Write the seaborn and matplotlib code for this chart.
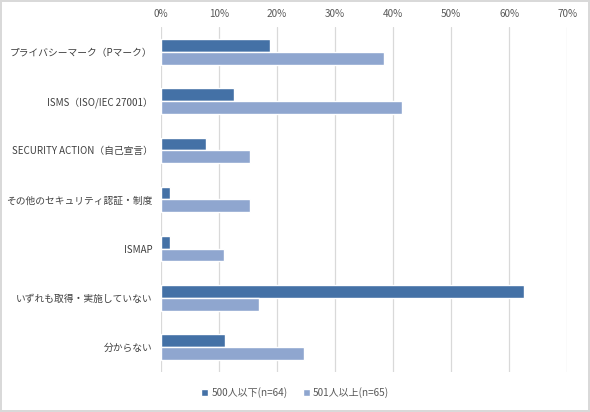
import matplotlib
matplotlib.use("Agg")
import matplotlib.pyplot as plt
import seaborn as sns
import pandas as pd
from matplotlib.ticker import PercentFormatter

categories = [
    "プライバシーマーク（Pマーク）",
    "ISMS（ISO/IEC 27001）",
    "SECURITY ACTION（自己宣言）",
    "その他のセキュリティ認証・制度",
    "ISMAP",
    "いずれも取得・実施していない",
    "分からない",
]
series_names = ["500人以下(n=64)", "501人以上(n=65)"]
small_vals = [0.1875, 0.125, 0.078, 0.0156, 0.0156, 0.625, 0.1094]
large_vals = [0.3846, 0.4154, 0.1538, 0.1538, 0.1077, 0.1692, 0.2462]
xticks = [0, 0.1, 0.2, 0.3, 0.4, 0.5, 0.6, 0.7]

colors = ["#4471A6", "#8FA6CF"]

df = pd.DataFrame({
    "category": categories * 2,
    "group": [series_names[0]] * len(categories) + [series_names[1]] * len(categories),
    "value": small_vals + large_vals,
})

sns.set_theme(style="white")
plt.rcParams["font.family"] = ["Noto Sans CJK JP", "DejaVu Sans"]

fig = plt.figure(figsize=(5.9, 4.12), dpi=100, edgecolor="#D9D9D9", linewidth=1.5)
ax = fig.add_axes([0.2729, 0.0983, 0.6886, 0.835])

sns.barplot(data=df, y="category", x="value", hue="group", order=categories,
            hue_order=series_names, palette=colors, orient="h", width=0.52,
            gap=0, saturation=1, ax=ax, legend=True)

ax.set_xlim(0, 0.7)
ax.set_xticks(xticks)
ax.xaxis.set_major_formatter(PercentFormatter(1.0, decimals=0))
ax.xaxis.tick_top()
ax.grid(axis="x", color="#D9D9D9", linewidth=0.9)
ax.set_axisbelow(True)
for s in ax.spines.values():
    s.set_visible(False)
ax.set_xlabel("")
ax.set_ylabel("")
ax.tick_params(axis="x", length=0, pad=6, labelsize=7.2, labelcolor="#595959")
ax.tick_params(axis="y", length=0, pad=6, labelsize=7.0, labelcolor="#404040")

handles, labels = ax.get_legend_handles_labels()
ax.legend_.remove()
fig.legend(handles, labels, loc="center", ncol=2, bbox_to_anchor=(0.5, 0.048),
           frameon=False, fontsize=7.2, labelcolor="#595959", handlelength=0.7,
           handleheight=0.7, handletextpad=0.3, columnspacing=1.5)

fig.savefig("out.png", dpi=100, edgecolor=fig.get_edgecolor())
